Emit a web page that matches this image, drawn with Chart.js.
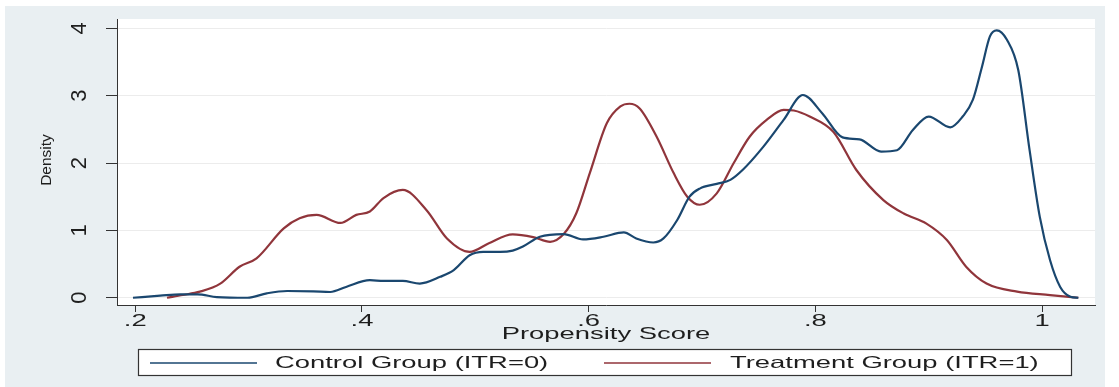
<!DOCTYPE html>
<html>
<head>
<meta charset="utf-8">
<title>Propensity Score Density</title>
<script src="https://cdn.jsdelivr.net/npm/chart.js@4.4.1/dist/chart.umd.min.js"></script>
<style>
  html, body { margin: 0; padding: 0; background: #ffffff; }
  #wrap { width: 1119px; height: 387px; position: relative; }
  canvas { display: block; }
</style>
</head>
<body>
<div id="wrap"><canvas id="chart" width="1119" height="387"></canvas></div>
<script>
// Kernel density estimates of the propensity score, by group
const controlScore   = [0.198, 0.222, 0.240, 0.255, 0.272, 0.299, 0.316, 0.334, 0.357, 0.372, 0.386, 0.407, 0.419, 0.436, 0.451, 0.469, 0.481, 0.495, 0.507, 0.522, 0.533, 0.542, 0.557, 0.578, 0.595, 0.613, 0.631, 0.642, 0.657, 0.666, 0.678, 0.689, 0.698, 0.713, 0.725, 0.736, 0.754, 0.772, 0.789, 0.806, 0.824, 0.839, 0.858, 0.872, 0.886, 0.900, 0.919, 0.930, 0.939, 0.947, 0.954, 0.960, 0.969, 0.979, 0.989, 0.998, 1.007, 1.016, 1.025, 1.032];
const controlDensity = [0.00, 0.03, 0.05, 0.05, 0.01, 0.00, 0.065, 0.10, 0.095, 0.085, 0.16, 0.26, 0.25, 0.25, 0.21, 0.31, 0.41, 0.63, 0.68, 0.68, 0.70, 0.76, 0.905, 0.945, 0.867, 0.905, 0.97, 0.88, 0.82, 0.88, 1.15, 1.50, 1.62, 1.69, 1.75, 1.90, 2.24, 2.64, 3.01, 2.74, 2.38, 2.35, 2.17, 2.19, 2.49, 2.69, 2.53, 2.69, 2.94, 3.43, 3.88, 3.97, 3.83, 3.38, 2.19, 1.20, 0.56, 0.16, 0.015, 0.00];

const treatScore   = [0.228, 0.242, 0.257, 0.275, 0.292, 0.307, 0.331, 0.345, 0.360, 0.381, 0.395, 0.407, 0.419, 0.436, 0.457, 0.475, 0.495, 0.512, 0.533, 0.551, 0.566, 0.578, 0.589, 0.601, 0.616, 0.628, 0.636, 0.645, 0.660, 0.675, 0.687, 0.698, 0.713, 0.728, 0.742, 0.757, 0.772, 0.781, 0.795, 0.816, 0.836, 0.860, 0.878, 0.898, 0.916, 0.933, 0.951, 0.978, 1.007, 1.032];
const treatDensity = [0.00, 0.04, 0.09, 0.21, 0.46, 0.585, 1.03, 1.18, 1.23, 1.11, 1.23, 1.28, 1.48, 1.60, 1.30, 0.88, 0.68, 0.81, 0.94, 0.90, 0.83, 0.945, 1.25, 1.85, 2.59, 2.84, 2.88, 2.81, 2.39, 1.85, 1.50, 1.38, 1.55, 2.00, 2.39, 2.64, 2.79, 2.78, 2.69, 2.46, 1.90, 1.45, 1.25, 1.10, 0.857, 0.46, 0.21, 0.09, 0.04, 0.00];

const xTickValues = [0.2, 0.4, 0.6, 0.8, 1.0];
const xTickLabels = ['.2', '.4', '.6', '.8', '1'];
const yTickValues = [0, 1, 2, 3, 4];
const yTickLabels = ['0', '1', '2', '3', '4'];

const seriesNames = ['Control Group (ITR=0)', 'Treatment Group (ITR=1)'];
const seriesColors = ['#1a476f', '#90353b'];

const xTitle = 'Propensity Score';
const yTitle = 'Density';

const toPoints = (xs, ys) => xs.map((x, i) => ({ x: x, y: ys[i] }));

// Wide, Stata-style lettering: text is stretched horizontally
const STRETCH = 1.66;
const TEXT_COLOR = '#1e1e1e';
const FONT = '"Liberation Sans", Arial, sans-serif';

function stretchedText(ctx, str, x, y, size, align) {
  ctx.save();
  ctx.translate(x, y);
  ctx.scale(STRETCH, 1);
  ctx.font = size + 'px ' + FONT;
  ctx.fillStyle = TEXT_COLOR;
  ctx.textAlign = align;
  ctx.textBaseline = 'middle';
  ctx.fillText(str, 0, 0);
  ctx.restore();
}

function rotatedText(ctx, str, x, y, size) {
  ctx.save();
  ctx.translate(x, y);
  ctx.rotate(-Math.PI / 2);
  ctx.font = size + 'px ' + FONT;
  ctx.fillStyle = TEXT_COLOR;
  ctx.textAlign = 'center';
  ctx.textBaseline = 'middle';
  ctx.fillText(str, 0, 0);
  ctx.restore();
}

const backdrop = {
  id: 'backdrop',
  beforeDraw(chart) {
    const { ctx, chartArea: a } = chart;
    ctx.save();
    ctx.fillStyle = '#ffffff';
    ctx.fillRect(0, 0, chart.width, chart.height);
    ctx.fillStyle = '#e9eff2';
    ctx.fillRect(5, 6, 1100, 381);
    ctx.fillStyle = '#ffffff';
    ctx.fillRect(a.left, a.top, a.right - a.left, a.bottom - a.top);
    ctx.restore();
  }
};

const annotations = {
  id: 'annotations',
  afterDraw(chart) {
    const { ctx, chartArea: a } = chart;
    const xs = chart.scales.x, ys = chart.scales.y;

    // x tick labels
    xTickValues.forEach((v, i) => {
      stretchedText(ctx, xTickLabels[i], xs.getPixelForValue(v), 321, 16.5, 'center');
    });
    // x axis title
    stretchedText(ctx, xTitle, (a.left + a.right) / 2, 334, 16.5, 'center');

    // y tick labels, rotated
    yTickValues.forEach((v, i) => {
      rotatedText(ctx, yTickLabels[i], 80, ys.getPixelForValue(v), 22);
    });
    // y axis title
    rotatedText(ctx, yTitle, 47, (a.top + a.bottom) / 2 - 2, 15.5);

    // legend box
    ctx.save();
    ctx.fillStyle = '#ffffff';
    ctx.fillRect(138, 349, 933, 26);
    ctx.strokeStyle = '#333333';
    ctx.lineWidth = 1.2;
    ctx.strokeRect(138.5, 349.5, 933, 26);
    const entries = [
      { x0: 150, x1: 257, tx: 275 },
      { x0: 604, x1: 711, tx: 730 }
    ];
    entries.forEach((e, i) => {
      ctx.strokeStyle = seriesColors[i];
      ctx.lineWidth = 1.6;
      ctx.beginPath();
      ctx.moveTo(e.x0, 363);
      ctx.lineTo(e.x1, 363);
      ctx.stroke();
    });
    ctx.restore();
    entries.forEach((e, i) => {
      stretchedText(ctx, seriesNames[i], e.tx, 363, 16.5, 'left');
    });
  }
};

new Chart(document.getElementById('chart'), {
  type: 'line',
  data: {
    datasets: [
      {
        label: seriesNames[0],
        data: toPoints(controlScore, controlDensity),
        borderColor: seriesColors[0],
        borderWidth: 2.2,
        pointRadius: 0,
        cubicInterpolationMode: 'monotone',
        fill: false
      },
      {
        label: seriesNames[1],
        data: toPoints(treatScore, treatDensity),
        borderColor: seriesColors[1],
        borderWidth: 2.2,
        pointRadius: 0,
        cubicInterpolationMode: 'monotone',
        fill: false
      }
    ]
  },
  options: {
    responsive: false,
    animation: false,
    devicePixelRatio: 1,
    layout: { padding: { left: 0, right: 24, top: 19, bottom: 0 } },
    plugins: {
      legend: { display: false },
      tooltip: { enabled: false }
    },
    scales: {
      x: {
        type: 'linear',
        min: 0.1839,
        max: 1.0467,
        afterBuildTicks: s => { s.ticks = xTickValues.map(v => ({ value: v })); },
        afterFit: s => { s.height = 82; },
        ticks: { display: false },
        grid: { drawOnChartArea: false, tickLength: 7, tickColor: '#333333', tickWidth: 1 },
        border: { color: '#333333', width: 1 }
      },
      y: {
        type: 'linear',
        min: -0.108,
        max: 4.138,
        afterBuildTicks: s => { s.ticks = yTickValues.map(v => ({ value: v })); },
        afterFit: s => { s.width = 117; },
        ticks: { display: false },
        grid: { color: '#ececec', lineWidth: 1, tickLength: 11, tickColor: '#333333', tickWidth: 1 },
        border: { color: '#333333', width: 1 }
      }
    }
  },
  plugins: [backdrop, annotations]
});
</script>
</body>
</html>
